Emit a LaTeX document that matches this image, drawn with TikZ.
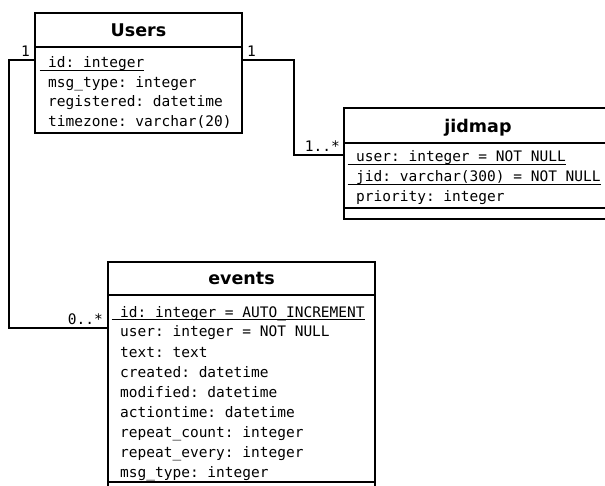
\documentclass[tikz,border=0pt]{standalone}
\usepackage{fontspec}
\setmainfont{DejaVu Sans}
\setsansfont{DejaVu Sans}
\setmonofont{DejaVu Sans Mono}
\usetikzlibrary{calc}

% underlined key field, the leading blank is underlined too
\newcommand{\pkey}[1]{\setbox0=\hbox{\ #1}\rlap{\rule[-3.4pt]{\wd0}{1.1pt}}\box0}

\begin{document}
\begin{tikzpicture}[x=1pt,y=-1pt]
\tikzset{
  classbox/.style={draw, line width=2pt, rectangle, anchor=north west, inner sep=0pt},
  classname/.style={font=\sffamily\bfseries\fontsize{17.5}{19}\selectfont, anchor=base, inner sep=0pt},
  attr/.style={font=\ttfamily\fontsize{14.5}{20}\selectfont, anchor=base west, inner sep=0pt},
  keyattr/.style={attr, xshift=-8.7pt},
  mult/.style={font=\ttfamily\fontsize{14.5}{20}\selectfont, inner sep=0pt},
  link/.style={line width=2pt}
}
  \useasboundingbox (0,0) rectangle (605,486);
  \clip (0,0) rectangle (605,486);

  % the three tables
  \node[classbox, minimum width=207pt, minimum height=120pt] (users) at (34,12) {};
  \node[classbox, minimum width=268pt, minimum height=111pt] (jidmap) at (343,107) {};
  \node[classbox, minimum width=267pt, minimum height=240pt] (events) at (107,261) {};

  % compartments
  \draw[line width=2pt] ($(users.north west)+(0,35)$) -- ($(users.north east)+(0,35)$);
  \draw[line width=2pt] ($(jidmap.north west)+(0,36)$) -- ($(jidmap.north east)+(0,36)$);
  \draw[line width=2pt] ($(jidmap.north west)+(0,101)$) -- ($(jidmap.north east)+(0,101)$);
  \draw[line width=2pt] ($(events.north west)+(0,34)$) -- ($(events.north east)+(0,34)$);
  \draw[line width=2pt] ($(events.north west)+(0,221)$) -- ($(events.north east)+(0,221)$);

  \node[classname] (usersname) at ($(users.north)+(0,25)$) {Users};
  \node[classname] (jidmapname) at ($(jidmap.north)+(0,26)$) {jidmap};
  \node[classname] (eventsname) at ($(events.north)+(0,24)$) {events};

  % Users fields
  \node[keyattr] (u1) at (48,68) {\pkey{id: integer}};
  \node[attr] (u2) at (48,88) {msg\_type: integer};
  \node[attr] (u3) at (48,107) {registered: datetime};
  \node[attr] (u4) at (48,127) {timezone: varchar(20)};

  % jidmap fields
  \node[keyattr] (j1) at (356,162) {\pkey{user: integer = NOT NULL}};
  \node[keyattr] (j2) at (356,182) {\pkey{jid: varchar(300) = NOT NULL}};
  \node[attr] (j3) at (356,202) {priority: integer};

  % events fields
  \node[keyattr] (e1) at (120,317) {\pkey{id: integer = AUTO\_INCREMENT}};
  \node[attr] (e2) at (120,337) {user: integer = NOT NULL};
  \node[attr] (e3) at (120,357) {text: text};
  \node[attr] (e4) at (120,377) {created: datetime};
  \node[attr] (e5) at (120,397) {modified: datetime};
  \node[attr] (e6) at (120,417) {actiontime: datetime};
  \node[attr] (e7) at (120,437) {repeat\_count: integer};
  \node[attr] (e8) at (120,457) {repeat\_every: integer};
  \node[attr] (e9) at (120,477) {msg\_type: integer};

  % connection points
  \coordinate (usersL) at ($(users.north west)+(0,48)$);
  \coordinate (usersR) at ($(users.north east)+(0,48)$);
  \coordinate (jidmapL) at ($(jidmap.north west)+(0,48)$);
  \coordinate (eventsL) at ($(events.north west)+(0,67)$);

  \draw[link] (usersL) -- ++(-25,0) |- (eventsL);
  \draw[link] (usersR) -- ++(51,0) |- (jidmapL);

  % multiplicities
  \node[mult, anchor=south east] (m1) at ($(usersL)+(-4,-3)$) {1};
  \node[mult, anchor=south west] (m2) at ($(usersR)+(4,-3)$) {1};
  \node[mult, anchor=south east] (m3) at ($(jidmapL)+(-3,-3)$) {1..*};
  \node[mult, anchor=south east] (m4) at ($(eventsL)+(-4,-3)$) {0..*};
\end{tikzpicture}
\end{document}
